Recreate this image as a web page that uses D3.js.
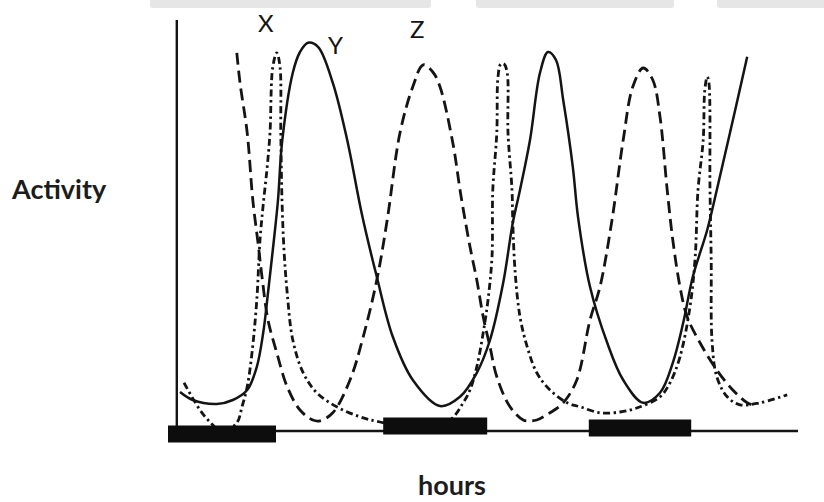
<!DOCTYPE html>
<html>
<head>
<meta charset="utf-8">
<script src="https://cdn.jsdelivr.net/npm/d3@7"></script>
<style>
  html, body { margin: 0; padding: 0; background: #fff; }
  svg { display: block; }
</style>
</head>
<body>
<svg id="chart" width="824" height="502"></svg>
<script>
// ---- data (hours, activity) ----
const seriesNames = ["X", "Y", "Z"];

const seriesX = [
  [2,12.3],[4,5.5],[5.25,2.5],[6.75,0],[8.6,2.3],[9.25,6.3],[9.9,11.3],[10.5,19.8],[11.1,33],
  [11.5,48],[11.9,56.8],[12.4,66.3],[12.75,74.8],[13.1,91.3],[13.6,94.8],[14,91.3],[14.1,74.8],
  [14.25,58],[14.5,45.5],[14.9,34.8],[15.6,23],[16.9,14.8],[18.6,9.8],[21.1,6.3],[24,3.8],
  [26.5,2.5],[31.5,1],[35.25,3],[36.9,7.3],[37.75,10.5],[38.6,16.3],[39.4,24.8],[40,33],
  [40.5,43.8],[40.6,60.5],[41.1,74.8],[41.25,88.8],[41.6,92],[42,92],[42.4,89.8],[42.5,74.8],
  [43,60.5],[43.1,52.3],[43.4,39.8],[44,28.8],[44.9,21.3],[46.1,14.8],[47.75,10.5],[49.9,7.3],
  [51.5,6.3],[54,4.8],[56.5,5],[58.6,6],[61.5,8.8],[62.75,12.3],[64,18.8],[65.25,31.3],
  [65.9,43.8],[66.25,60.5],[66.9,73],[67.1,85.5],[67.4,88.8],[67.6,87.5],[67.75,60.5],
  [67.9,43],[68,23],[68.6,13.8],[69.9,8.8],[71.5,6.8],[74,7.3],[77.4,9.3]
];

const seriesY = [
  [1.5,10],[3.1,8],[6.1,7],[8.1,8],[9.9,10.5],[11.1,16.3],[11.9,24.8],[12.5,34.8],[13.1,45.5],
  [13.75,58],[14.25,72.3],[15.6,89.8],[16.5,95],[17.5,97.3],[18.75,96.3],[20.6,87.3],[22.4,73],
  [24.25,54.3],[26.1,38.8],[28.1,23.8],[30.6,13],[34,6.5],[36.5,8.8],[38.6,14.8],[40.25,23],
  [41.9,37.3],[43.1,52.3],[44,60.5],[45.25,73],[46.5,89.8],[47.5,95],[48.5,93],[49.4,83],
  [50.6,66.3],[51.25,53.8],[52.75,36.3],[54.9,22.3],[56.9,13],[59.4,7.3],[61.5,9.8],
  [63.1,17.3],[64.4,27.3],[65.6,38.8],[67.4,50.5],[68.6,60.5],[70.25,74.8],[72.4,93.8]
];

const seriesZ = [
  [8.6,94.8],[9,87.3],[9.9,74.8],[10.6,58],[11.25,47.3],[11.75,38.8],[12.5,28],[13.6,19.8],
  [14.9,11.3],[16.5,5.5],[18.1,3],[19,2.8],[20.6,4.8],[22.75,13],[24.4,23.8],[26.1,38],
  [27.4,53],[29,74.8],[30.6,86.3],[31.9,91.8],[33.1,90],[34,86.3],[35.6,72.3],[36.6,59.3],
  [37.75,46.3],[38.6,38],[39.4,28.8],[40.25,21.3],[41.1,13.8],[42.75,6.3],[44.4,3],[45.25,2.8],
  [46.1,3],[47.75,4.8],[49.4,7.3],[51.1,13],[52.75,28],[54,36.3],[55.5,53],[56.9,73],
  [58.1,86.3],[59.4,91],[60.6,88],[61.5,78.8],[62.4,60.5],[63.1,48],[64,36.3],[64.9,28.8],
  [66.5,22.3],[68.6,15.5],[70.6,10.5],[72.4,7.3],[73,6.8]
];

// dark periods on the hours axis [start, end]
const darkPeriods = [[0, 13.5], [26.9, 39.9], [52.6, 65.4]];

// series labels placed at (hours, activity)
const labelPos = [[11.25, 100], [20, 94.5], [30.25, 98.5]];

const xTitle = "hours";
const yTitle = "Activity";

// ---- drawing ----
const svg = d3.select("#chart");
const ink = "#141414";

const x = d3.scaleLinear().domain([0, 79]).range([168, 800]);
const y = d3.scaleLinear().domain([0, 103]).range([432, 20]);

// top grey strip (page artifact)
const bands = [[150, 431], [476, 674], [717, 830]];
svg.selectAll("rect.band").data(bands).join("rect")
  .attr("class", "band")
  .attr("x", d => d[0]).attr("y", -4)
  .attr("width", d => d[1] - d[0]).attr("height", 12)
  .attr("rx", 3)
  .attr("fill", "#e6e6e6");

// axes
const xAxis = d3.axisBottom(x).tickValues([]).tickSizeOuter(0);
const yAxis = d3.axisLeft(y).tickValues([]).tickSizeOuter(0);

const gx = svg.append("g").attr("transform", "translate(0,431)").call(xAxis);
gx.select(".domain").attr("stroke", ink).attr("stroke-width", 2.6)
  .attr("d", `M${x(0)},0H${x(78.75)}`);

const gy = svg.append("g").attr("transform", `translate(${x(1.1)},0)`).call(yAxis);
gy.select(".domain").attr("stroke", ink).attr("stroke-width", 2.4)
  .attr("d", `M0,${y(0)}V${y(103)}`);

// curves
const line = d3.line()
  .x(d => x(d[0])).y(d => y(d[1]))
  .curve(d3.curveCatmullRom.alpha(0.5));

const styles = {
  X: { dash: "7,3.5,2.4,3.5", width: 2.8 },
  Y: { dash: null, width: 2.5 },
  Z: { dash: "12,6", width: 2.8 }
};
const allSeries = { X: seriesX, Y: seriesY, Z: seriesZ };

seriesNames.forEach(name => {
  svg.append("path")
    .datum(allSeries[name])
    .attr("fill", "none")
    .attr("stroke", ink)
    .attr("stroke-width", styles[name].width)
    .attr("stroke-dasharray", styles[name].dash)
    .attr("stroke-linecap", "butt")
    .attr("stroke-linejoin", "round")
    .attr("d", line);
});

// dark period bars
const barOffsets = [3, -5, -3];
svg.selectAll("rect.dark").data(darkPeriods).join("rect")
  .attr("class", "dark")
  .attr("x", d => x(d[0]))
  .attr("y", (d, i) => 431 - 8.5 + barOffsets[i])
  .attr("width", d => x(d[1]) - x(d[0]))
  .attr("height", 17)
  .attr("fill", "#0d0d0d");

// series labels
svg.selectAll("text.series").data(seriesNames).join("text")
  .attr("class", "series")
  .attr("x", (d, i) => x(labelPos[i][0]))
  .attr("y", (d, i) => y(labelPos[i][1]))
  .attr("font-family", "Lato, sans-serif")
  .attr("font-size", 24)
  .attr("fill", ink)
  .text(d => d);

// axis titles
svg.append("text")
  .attr("x", 12).attr("y", 199)
  .attr("font-family", "Lato, sans-serif").attr("font-weight", 700)
  .attr("font-size", 27).attr("fill", "#1c1c1c")
  .text(yTitle);

svg.append("text")
  .attr("x", 418).attr("y", 495)
  .attr("font-family", "Lato, sans-serif").attr("font-weight", 700)
  .attr("font-size", 27).attr("fill", "#1c1c1c")
  .text(xTitle);
</script>
</body>
</html>
